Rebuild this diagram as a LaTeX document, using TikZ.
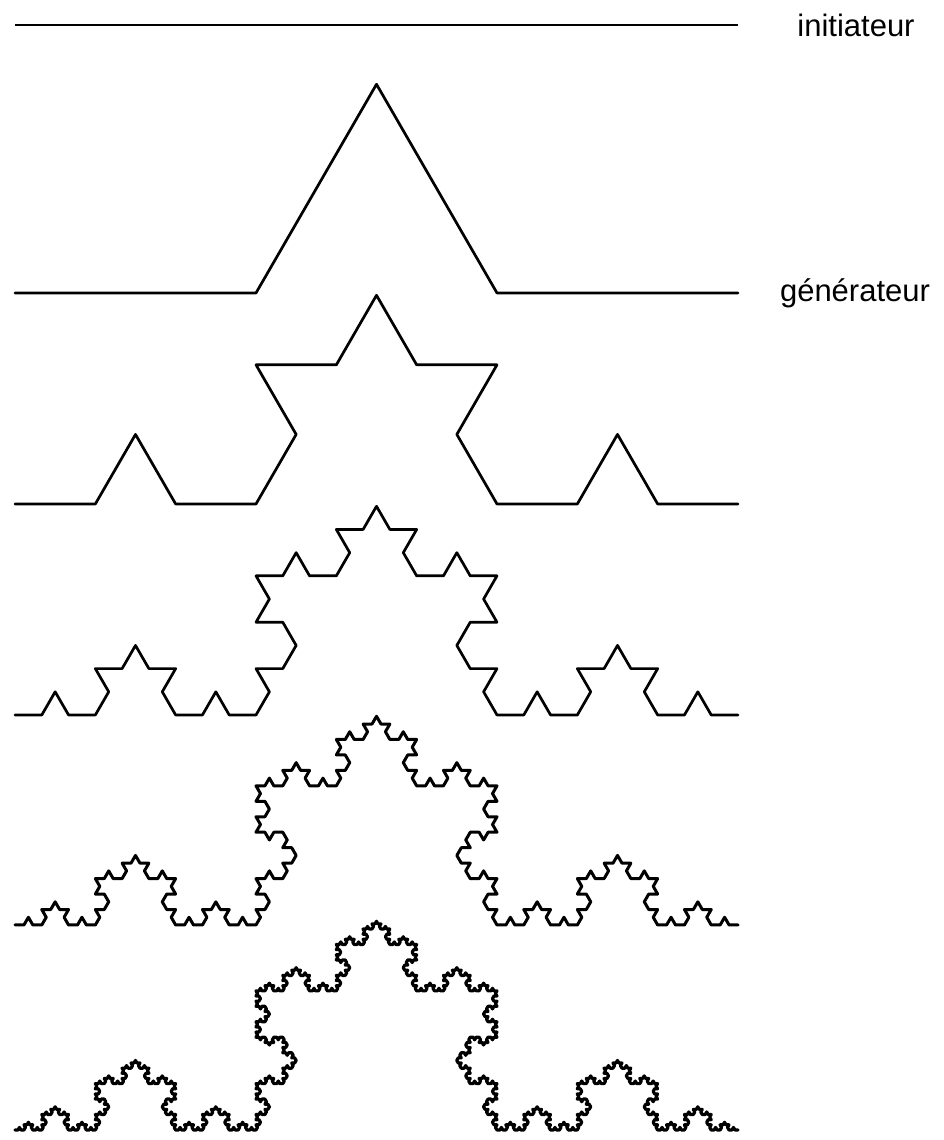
\documentclass[tikz,border=0pt]{standalone}
\usepackage{fontspec}
\setmainfont{Liberation Sans}
\pgfmathdeclarefunction{kturn}{2}{%
  \begingroup
  \pgfmathparse{int(mod(floor(#1/#2),4))}\let\kd\pgfmathresult
  \pgfmathparse{60*(\kd==1)-60*(\kd==2)}%
  \pgfmathsmuggle\pgfmathresult
  \endgroup}
\tikzset{
  koch/.style={line width=2.7pt, line join=round, line cap=round, black},
  lbl/.style={font=\fontsize{31}{36}\selectfont, inner sep=0pt}
}
\newcommand\kochcurve[4]{%
  \pgfmathtruncatemacro\kN{4^#2-1}%
  \draw[koch,#4] (#1) \foreach \k [evaluate=\k as \ang using {kturn(\k,1)+kturn(\k,4)+kturn(\k,16)+kturn(\k,64)+kturn(\k,256)}] in {0,...,\kN} { -- ++(\ang:#3) };%
}
\begin{document}
\begin{tikzpicture}[x=1pt,y=1pt]
\useasboundingbox (0,0) rectangle (943,1140);
% initiator
\coordinate (i0) at (15,1115);
\coordinate (i1) at (738,1115);
\draw[line width=2.8pt] (i0) -- (i1);
\node[lbl] (init) at (856,1115) {initiateur};
% generator and iterations
\coordinate (g1) at (15,847);
\coordinate (g2) at (15,636);
\coordinate (g3) at (15,425);
\coordinate (g4) at (15,215);
\coordinate (g5) at (15,10);
\node[lbl] (gen) at (855,847) {générateur};
\kochcurve{g1}{1}{241pt}{}
\kochcurve{g2}{2}{80.333pt}{}
\kochcurve{g3}{3}{26.778pt}{}
\kochcurve{g4}{4}{8.926pt}{line width=3pt}
\kochcurve{g5}{5}{2.975pt}{line width=3.2pt}
\end{tikzpicture}
\end{document}
